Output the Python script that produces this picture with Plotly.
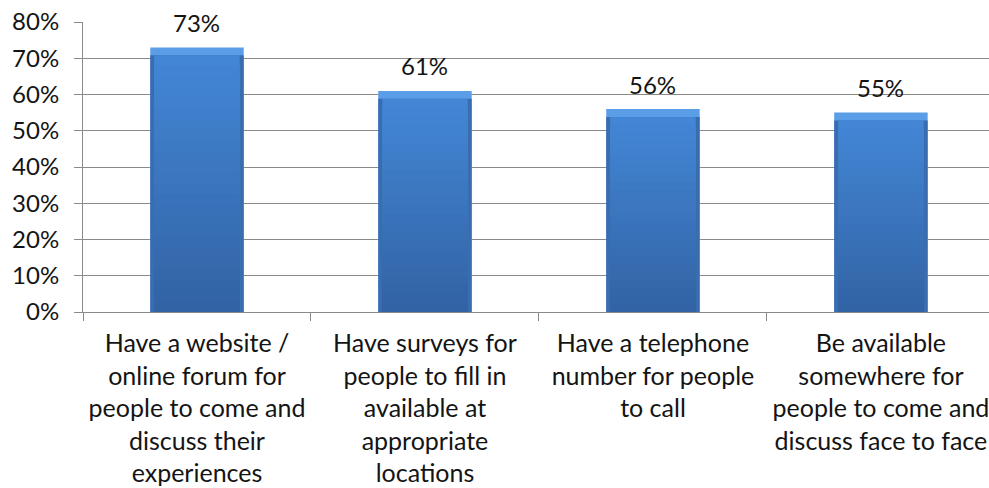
import plotly.graph_objects as go

# Survey results: share of respondents choosing each option
label_lines = [
    ["Have a website /", "online forum for", "people to come and", "discuss their", "experiences"],
    ["Have surveys for", "people to fill in", "available at", "appropriate", "locations"],
    ["Have a telephone", "number for people", "to call"],
    ["Be available", "somewhere for", "people to come and", "discuss face to face"],
]
values = [0.73, 0.61, 0.56, 0.55]
y_ticks = [0.0, 0.1, 0.2, 0.3, 0.4, 0.5, 0.6, 0.7, 0.8]

categories = ["<br>".join(lines) for lines in label_lines]

FONT = "Lato"
TEXT = "#141414"
GRID = "#8a8a8a"

OUTER_W = 0.41
INNER_W = 0.375
BEVEL = 0.022  # height of the light top edge, in axis units

fig = go.Figure()

# light top bevel: full-width bar
fig.add_trace(go.Bar(x=categories, y=values, width=OUTER_W,
                     marker=dict(color="#5c9de8", line=dict(width=0)),
                     hoverinfo="skip", showlegend=False))

# slightly darker side edges below the bevel
fig.add_trace(go.Bar(x=categories, y=[v - BEVEL for v in values], width=OUTER_W,
                     marker=dict(color="#3a6cb0", line=dict(width=0)),
                     hoverinfo="skip", showlegend=False))

# vertical gradient body: stacked bands, lighter at top, darker at bottom
top_rgb = (67, 134, 213)
bot_rgb = (49, 98, 163)
N = 24
for i in range(N):
    frac = i / N
    rgb = tuple(round(t + (b - t) * frac) for t, b in zip(top_rgb, bot_rgb))
    heights = [(v - BEVEL) * (1 - frac) for v in values]
    fig.add_trace(go.Bar(x=categories, y=heights, width=INNER_W,
                         marker=dict(color="rgb(%d,%d,%d)" % rgb, line=dict(width=0)),
                         hoverinfo="skip", showlegend=False))

# value labels above each bar
for c, v in zip(categories, values):
    fig.add_annotation(x=c, y=v, text=f"{v:.0%}", showarrow=False,
                       yshift=25, font=dict(family=FONT, size=24, color=TEXT))

fig.update_layout(
    width=989, height=488,
    margin=dict(l=83, r=0, t=22, b=176, autoexpand=False),
    barmode="overlay",
    plot_bgcolor="white", paper_bgcolor="white",
    font=dict(family=FONT, size=24, color=TEXT),
)

fig.update_xaxes(
    type="category", range=[-0.5, 3.474], automargin=False,
    showgrid=False, showline=True, linecolor=GRID, linewidth=1,
    ticks="outside", tickson="boundaries", ticklen=8, tickcolor=GRID,
    ticklabelstandoff=9,
    tickfont=dict(family=FONT, size=25, color=TEXT),
)
fig.update_yaxes(
    range=[0, 0.8], tickvals=y_ticks, tickformat=".0%", automargin=False,
    showgrid=True, gridcolor=GRID, gridwidth=1,
    showline=True, linecolor=GRID, linewidth=1,
    ticks="outside", ticklen=8, tickcolor=GRID,
    ticklabelstandoff=10, zeroline=False,
    tickfont=dict(family=FONT, size=24, color=TEXT),
)

fig.write_html("out.html")
